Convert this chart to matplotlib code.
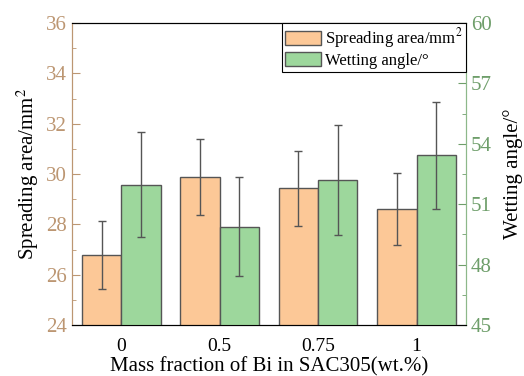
import numpy as np
import matplotlib.pyplot as plt
from matplotlib.ticker import MultipleLocator

plt.rcParams['font.family'] = ['Liberation Serif', 'DejaVu Serif']
plt.rcParams['mathtext.fontset'] = 'stix'

# data
bi_fraction = ['0', '0.5', '0.75', '1']
spread_area = [26.8, 29.88, 29.43, 28.6]
spread_err = [1.35, 1.5, 1.5, 1.43]
wet_angle = [51.97, 49.87, 52.22, 53.43]
wet_err = [2.6, 2.46, 2.73, 2.67]

orange = '#FCC897'
green = '#9DD79C'
edge = '#555555'
tan = '#BC9672'
sage = '#6E9E6A'

fig = plt.figure(figsize=(5.24, 3.76), dpi=100)
ax = fig.add_axes([0.1374, 0.1356, 0.7515, 0.8032])
ax2 = ax.twinx()

x = np.arange(len(bi_fraction))
w = 0.4
b1 = ax.bar(x - w / 2, spread_area, w, color=orange, edgecolor=edge, linewidth=1,
            yerr=spread_err, capsize=3,
            error_kw=dict(ecolor=edge, elinewidth=1, capthick=1))
b2 = ax2.bar(x + w / 2, wet_angle, w, color=green, edgecolor=edge, linewidth=1,
             yerr=wet_err, capsize=3,
             error_kw=dict(ecolor=edge, elinewidth=1, capthick=1))

ax.set_xlim(-0.5, 3.5)
ax.set_ylim(24, 36)
ax2.set_ylim(45, 60)
ax.set_xticks(x)
ax.set_xticklabels(bi_fraction)
ax.yaxis.set_major_locator(MultipleLocator(2))
ax.yaxis.set_minor_locator(MultipleLocator(1))
ax2.yaxis.set_major_locator(MultipleLocator(3))
ax2.yaxis.set_minor_locator(MultipleLocator(1.5))

ax.tick_params(axis='x', direction='in', length=4, pad=9, labelsize=14,
               color='black')
ax.tick_params(axis='y', which='major', direction='in', length=6, labelsize=15,
               colors=tan)
ax.tick_params(axis='y', which='minor', direction='in', length=3, colors=tan)
ax2.tick_params(axis='y', which='major', direction='in', length=6, labelsize=15,
                colors=sage)
ax2.tick_params(axis='y', which='minor', direction='in', length=3, colors=sage)

for a in (ax, ax2):
    a.spines['left'].set_color(tan)
    a.spines['right'].set_color('#8DB88A')
    a.spines['top'].set_color('black')
    a.spines['bottom'].set_color('black')

ax.set_xlabel('Mass fraction of Bi in SAC305(wt.%)', fontsize=15, labelpad=2)
ax.set_ylabel('Spreading area/mm$^2$', fontsize=15, labelpad=4)
ax2.set_ylabel('Wetting angle/°', fontsize=15, labelpad=8)

leg = ax2.legend([b1, b2], ['Spreading area/mm$^2$', 'Wetting angle/°'],
                 loc='upper right', borderaxespad=0, fontsize=12,
                 fancybox=False, framealpha=1, edgecolor='black',
                 handlelength=2.15, handleheight=0.95, handletextpad=0.25,
                 borderpad=0.2, labelspacing=0.1)
leg.get_frame().set_linewidth(0.8)

fig.savefig('out.png', dpi=100)
